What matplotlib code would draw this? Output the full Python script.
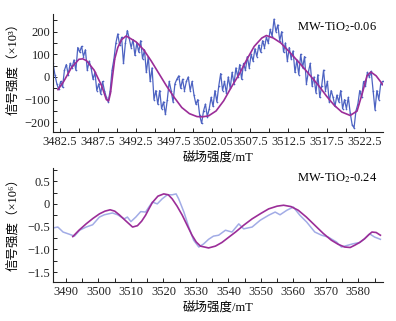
import numpy as np
import matplotlib.pyplot as plt
from matplotlib.ticker import FixedLocator, FixedFormatter, MultipleLocator

plt.rcParams['font.family'] = ['Liberation Serif', 'Noto Sans CJK SC', 'DejaVu Sans']
plt.rcParams['mathtext.fontset'] = 'stix'

LABEL_FONT = ['Liberation Serif', 'Noto Sans CJK SC', 'DejaVu Sans']
BLUE = '#4d63c2'
LIGHT_BLUE = '#a2ace6'
PURPLE = '#9b2d98'

# ---- top panel: MW-TiO2-0.06 (x10^3) ----
top_raw_y = [
    60, 10, -30, -55, -20, -45, 30, 55, 10, 60,
    40, 75, 30, 130, 110, 135, 90, 120, 30, 70,
    40, -10, 20, -60, -30, -75, -20, -60, -90, -110,
    -60, 30, 80, 150, 190, 140, 175, 60, 150, 205,
    170, 130, 165, 95, 150, 110, 160, 80, 120, 20,
    90, -20, 40, -100, -60, -120, -60, -140, -110, -165,
    -100, -20, -60, -110, -30, -10, 5, -50, -10, -60,
    -20, 0, -60, -20, -80, -120, -100, -170, -205, -150,
    -120, -175, -140, -90, -130, -60, -110, -40, 15, -60,
    -20, -70, 0, -50, 20, -30, 40, 0, 55, -10,
    60, 30, 90, 40, 100, 70, 125, 90, 140, 110,
    160, 130, 175, 150, 210, 180, 255, 200, 230, 160,
    200, 110, 150, 70, 130, 80, 115, 20, 75, 10,
    100, 40, 90, -30, 20, 60, -40, 0, -70, 10,
    -90, -40, 30, -60, -20, -110, -60, -90, -130, -80,
    -110, -60, -140, -100, -140, -90, -160, -210, -225, -150,
    -120, -60, -90, -20, -40, 20, 0, 25, -60, -145,
    -60, -100, -30, -20,
]
top_raw_x = np.linspace(3481.6, 3524.85, len(top_raw_y))

top_fit_x = [3482.25, 3483, 3484, 3485, 3485.5, 3486, 3487, 3488, 3488.6, 3488.9,
             3489.15, 3489.4, 3489.7, 3490.1, 3490.6, 3491.2, 3492.5, 3493.5, 3494.5, 3495.5,
             3496.5, 3497.5, 3498.5, 3499.5, 3500.5, 3501.2, 3502, 3503, 3504, 3505,
             3506, 3507, 3508, 3509, 3509.6, 3510.5, 3511.5, 3512.5, 3513.5, 3514.5,
             3515.5, 3516.5, 3517.5, 3518.5, 3519.5, 3520.6, 3521.5, 3522.2, 3522.8, 3523.3,
             3524, 3524.9]
top_fit_y = [-56, -20, 40, 78, 80, 72, 30, -40, -100, -106,
             -70, 0, 80, 130, 165, 181, 155, 120, 70, 15,
             -40, -90, -135, -162, -175, -176, -172, -150, -105, -45,
             10, 75, 135, 172, 183, 172, 150, 115, 78, 40,
             0, -40, -85, -125, -155, -170, -150, -70, 5, 22,
             5, -35]

top_xticks = [3482.5, 3487.5, 3492.5, 3497.5, 3502.5, 3507.5, 3512.5, 3517.5, 3522.5]
top_xlabels = ['3482.5', '3487.5', '3492.5', '3497.5', '3502.05', '3507.5', '3512.5', '3517.5', '3522.5']
top_yticks = [-200, -100, 0, 100, 200]
top_ylabels = ['\u2212200', '\u2212100', '0', '100', '200']

# ---- bottom panel: MW-TiO2-0.24 (x10^6) ----
bot_raw_x = [3486, 3487.5, 3489.1, 3491.1, 3492.6, 3494.2, 3496.2, 3498.2, 3500.3, 3501.8,
             3504.3, 3505.9, 3507.9, 3508.9, 3510, 3511.5, 3513, 3514.5, 3515.8, 3516.6,
             3518.1, 3519.6, 3521.2, 3522.7, 3523.9, 3524.7, 3526.3, 3527.8, 3529.3, 3530.9,
             3532.4, 3533.9, 3535.4, 3537, 3539.1, 3541.1, 3543.2, 3544.7, 3547.3, 3549.8,
             3552.4, 3554.4, 3555.9, 3558, 3560, 3562, 3564.1, 3566.6, 3568.7, 3570.7,
             3573.3, 3574.8, 3576.8, 3578.3, 3580.4, 3581.9, 3583.5, 3585, 3586.8]
bot_raw_y = [-0.53, -0.51, -0.62, -0.67, -0.71, -0.58, -0.51, -0.46, -0.29, -0.24,
             -0.20, -0.24, -0.33, -0.29, -0.39, -0.29, -0.17, -0.18, -0.04, 0.04,
             0.0, 0.11, 0.20, 0.20, 0.22, 0.11, -0.18, -0.51, -0.80, -0.95,
             -0.88, -0.78, -0.71, -0.69, -0.58, -0.62, -0.44, -0.55, -0.51, -0.36,
             -0.25, -0.18, -0.24, -0.14, -0.07, -0.25, -0.40, -0.62, -0.69, -0.73,
             -0.84, -0.95, -0.91, -0.88, -0.85, -0.77, -0.66, -0.73, -0.78]

bot_fit_x = [3492.1, 3494, 3496.2, 3498.3, 3500.3, 3502, 3503.6, 3505, 3506.4, 3508.5,
             3510.5, 3512, 3513.3, 3514.5, 3515.6, 3516.6, 3518.3, 3520.1, 3521.5, 3522.7,
             3524.2, 3525.8, 3527.3, 3528.8, 3530.1, 3531.4, 3533.9, 3536, 3538, 3540,
             3542.2, 3544.7, 3547.3, 3550, 3552.4, 3555, 3557, 3559.3, 3561.5, 3564,
             3566.6, 3569.2, 3571.7, 3573.8, 3575.8, 3577.5, 3578.9, 3580.4, 3581.9, 3583.2,
             3584.2, 3585.5, 3586.8]
bot_fit_y = [-0.72, -0.58, -0.44, -0.32, -0.22, -0.16, -0.13, -0.16, -0.24, -0.38,
             -0.51, -0.48, -0.38, -0.25, -0.10, 0.03, 0.17, 0.22, 0.20, 0.11,
             -0.05, -0.25, -0.47, -0.69, -0.84, -0.93, -0.97, -0.93, -0.85, -0.74,
             -0.62, -0.47, -0.33, -0.21, -0.11, -0.05, -0.03, -0.06, -0.14, -0.29,
             -0.47, -0.65, -0.80, -0.89, -0.95, -0.96, -0.91, -0.85, -0.77, -0.68,
             -0.62, -0.63, -0.69]

bot_xticks = [3490, 3500, 3510, 3520, 3530, 3540, 3550, 3560, 3570, 3580]
bot_yticks = [-1.5, -1.0, -0.5, 0, 0.5]
bot_ylabels = ['\u22121.5', '\u22121.0', '\u22120.5', '0', '0.5']


def style_axes(ax):
    ax.spines['top'].set_visible(False)
    ax.spines['right'].set_visible(False)
    for s in ('left', 'bottom'):
        ax.spines[s].set_linewidth(0.8)
        ax.spines[s].set_color('#222222')
    ax.tick_params(which='both', direction='in', labelsize=9, colors='#222222')
    ax.tick_params(which='major', length=3, width=0.7)
    ax.tick_params(which='minor', length=3, width=0.7)
    ax.tick_params(axis='x', pad=3)
    ax.tick_params(axis='y', pad=2)


fig = plt.figure(figsize=(3.96, 3.21), dpi=100)

ax1 = fig.add_axes([53 / 396, 1 - 132 / 321, 330 / 396, 118 / 321])
ax1.plot(top_raw_x, top_raw_y, color=BLUE, lw=0.9, marker='o', ms=1.2, mew=0)
ax1.plot(top_fit_x, top_fit_y, color=PURPLE, lw=1.2)
ax1.set_xlim(3481.6, 3524.9)
ax1.set_ylim(-243, 278)
ax1.xaxis.set_major_locator(FixedLocator(top_xticks))
ax1.xaxis.set_major_formatter(FixedFormatter(top_xlabels))
ax1.xaxis.set_minor_locator(FixedLocator([t + 2.5 for t in top_xticks]))
ax1.yaxis.set_major_locator(FixedLocator(top_yticks))
ax1.yaxis.set_major_formatter(FixedFormatter(top_ylabels))
ax1.yaxis.set_minor_locator(FixedLocator([-150, -50, 50, 150, 250]))
style_axes(ax1)
ax1.set_xlabel('磁场强度/mT', family=LABEL_FONT, fontsize=9, labelpad=2)
ax1.set_ylabel('信号强度（×10³）', family=LABEL_FONT, fontsize=9, labelpad=1)
ax1.yaxis.set_label_coords(-0.10, 0.56)
ax1.text(0.74, 0.86, 'MW-TiO$_2$-0.06', transform=ax1.transAxes, fontsize=9)

ax2 = fig.add_axes([53 / 396, 1 - 282 / 321, 330 / 396, 114 / 321])
ax2.plot(bot_raw_x, bot_raw_y, color=LIGHT_BLUE, lw=1.1)
ax2.plot(bot_fit_x, bot_fit_y, color=PURPLE, lw=1.2)
ax2.set_xlim(3486, 3587.6)
ax2.set_ylim(-1.72, 0.79)
ax2.xaxis.set_major_locator(FixedLocator(bot_xticks))
ax2.xaxis.set_minor_locator(MultipleLocator(5))
ax2.yaxis.set_major_locator(FixedLocator(bot_yticks))
ax2.yaxis.set_major_formatter(FixedFormatter(bot_ylabels))
ax2.yaxis.set_minor_locator(MultipleLocator(0.25))
style_axes(ax2)
ax2.set_xlabel('磁场强度/mT', family=LABEL_FONT, fontsize=9, labelpad=2)
ax2.set_ylabel('信号强度（×10⁶）', family=LABEL_FONT, fontsize=9, labelpad=1)
ax2.yaxis.set_label_coords(-0.10, 0.53)
ax2.text(0.74, 0.88, 'MW-TiO$_2$-0.24', transform=ax2.transAxes, fontsize=9)

fig.savefig('out.png', dpi=100)
